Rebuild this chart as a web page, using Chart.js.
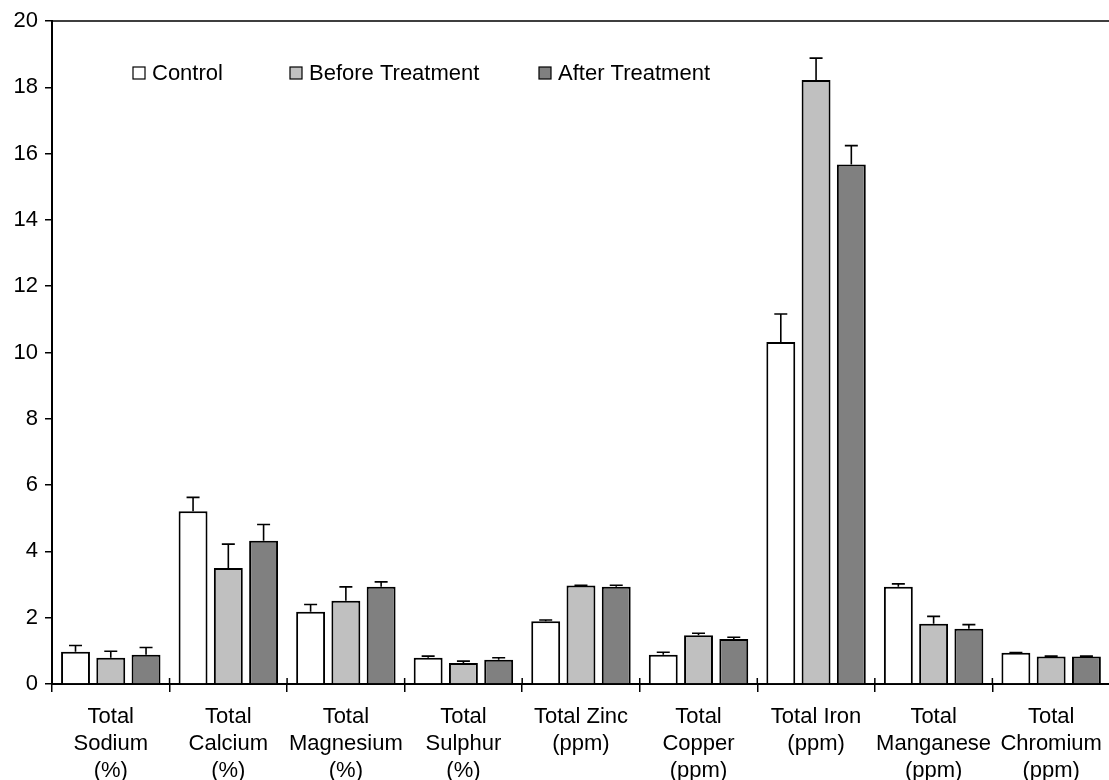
<!DOCTYPE html>
<html>
<head>
<meta charset="utf-8">
<script src="https://cdn.jsdelivr.net/npm/chart.js@4.4.0/dist/chart.umd.min.js"></script>
<style>
  html, body { margin: 0; padding: 0; background: #fff; overflow: hidden; }
  #wrap { position: relative; width: 1113px; height: 780px; }
</style>
</head>
<body>
<div id="wrap"><canvas id="chart"></canvas></div>
<script>
const categories = [
  ["Total", "Sodium", "(%)"],
  ["Total", "Calcium", "(%)"],
  ["Total", "Magnesium", "(%)"],
  ["Total", "Sulphur", "(%)"],
  ["Total Zinc", "(ppm)"],
  ["Total", "Copper", "(ppm)"],
  ["Total Iron", "(ppm)"],
  ["Total", "Manganese", "(ppm)"],
  ["Total", "Chromium", "(ppm)"],
];
const seriesNames = ["Control", "Before Treatment", "After Treatment"];
const controlValues = [0.97, 5.21, 2.18, 0.79, 1.89, 0.88, 10.32, 2.93, 0.94];
const controlErrors = [0.19, 0.42, 0.22, 0.05, 0.04, 0.08, 0.84, 0.09, 0.01];
const beforeValues = [0.79, 3.50, 2.51, 0.63, 2.97, 1.47, 18.22, 1.82, 0.83];
const beforeErrors = [0.20, 0.72, 0.42, 0.06, 0.01, 0.06, 0.66, 0.22, 0.01];
const afterValues = [0.88, 4.32, 2.93, 0.73, 2.93, 1.36, 15.67, 1.67, 0.83];
const afterErrors = [0.22, 0.49, 0.15, 0.06, 0.05, 0.05, 0.57, 0.12, 0.01];
const yMin = 0, yMax = 20, yStep = 2;

const FONT = "'Liberation Sans', Arial, sans-serif";
const colors = ["#ffffff", "#c0c0c0", "#808080"];
const errors = [controlErrors, beforeErrors, afterErrors];

// error bars drawn from the bar elements + y scale
const errorBars = {
  id: "errorBars",
  afterDatasetsDraw(chart) {
    const { ctx, scales: { y } } = chart;
    ctx.save();
    ctx.strokeStyle = "#000";
    ctx.lineWidth = 1.6;
    chart.data.datasets.forEach((ds, i) => {
      chart.getDatasetMeta(i).data.forEach((bar, j) => {
        const top = y.getPixelForValue(ds.data[j] + errors[i][j]);
        ctx.beginPath();
        ctx.moveTo(bar.x, bar.y);
        ctx.lineTo(bar.x, top);
        ctx.moveTo(bar.x - 6.5, top);
        ctx.lineTo(bar.x + 6.5, top);
        ctx.stroke();
      });
    });
    ctx.restore();
  },
};

// top frame line, small upward tick stubs on the x axis, inline legend
const frameAndLegend = {
  id: "frameAndLegend",
  afterDraw(chart) {
    const { ctx, chartArea: a, scales: { x } } = chart;
    ctx.save();
    ctx.strokeStyle = "#000";
    ctx.lineWidth = 1.5;
    ctx.beginPath();
    ctx.moveTo(a.left, a.top);
    ctx.lineTo(a.right + 10, a.top);
    for (let i = 1; i < categories.length; i++) {
      const px = (x.getPixelForValue(i - 1) + x.getPixelForValue(i)) / 2;
      ctx.moveTo(px, a.bottom);
      ctx.lineTo(px, a.bottom - 6);
    }
    ctx.stroke();

    const xs = [133, 290, 539];
    ctx.font = `22px ${FONT}`;
    ctx.textBaseline = "middle";
    seriesNames.forEach((name, i) => {
      ctx.fillStyle = colors[i];
      ctx.fillRect(xs[i], 67, 12, 12);
      ctx.lineWidth = 1.2;
      ctx.strokeStyle = "#000";
      ctx.strokeRect(xs[i], 67, 12, 12);
      ctx.fillStyle = "#000";
      ctx.fillText(name, xs[i] + 19, 73.5);
    });
    ctx.restore();
  },
};

new Chart(document.getElementById("chart"), {
  type: "bar",
  data: {
    labels: categories,
    datasets: [
      { label: seriesNames[0], data: controlValues, backgroundColor: colors[0] },
      { label: seriesNames[1], data: beforeValues, backgroundColor: colors[1] },
      { label: seriesNames[2], data: afterValues, backgroundColor: colors[2] },
    ].map((d) => ({ ...d, borderColor: "#000", borderWidth: 2, categoryPercentage: 0.9, barPercentage: 0.82 })),
  },
  options: {
    responsive: true,
    maintainAspectRatio: false,
    animation: false,
    layout: { padding: { top: 21, right: 2, left: 0, bottom: 0 } },
    plugins: { legend: { display: false }, tooltip: { enabled: false } },
    scales: {
      x: {
        afterFit: (s) => { s.height = 96; },
        grid: { offset: true, drawOnChartArea: false, tickLength: 8, color: "#000", lineWidth: 1.5 },
        border: { color: "#000", width: 2 },
        ticks: { color: "#000", font: { family: FONT, size: 22, lineHeight: 1.23 }, padding: 11, maxRotation: 0, autoSkip: false },
      },
      y: {
        min: yMin,
        max: yMax,
        afterFit: (s) => { s.width = 52; },
        grid: { drawOnChartArea: false, tickLength: 7, color: "#000", lineWidth: 1.5 },
        border: { color: "#000", width: 2 },
        ticks: { stepSize: yStep, color: "#000", font: { family: FONT, size: 22 }, padding: 7 },
      },
    },
  },
  plugins: [errorBars, frameAndLegend],
});
</script>
</body>
</html>
